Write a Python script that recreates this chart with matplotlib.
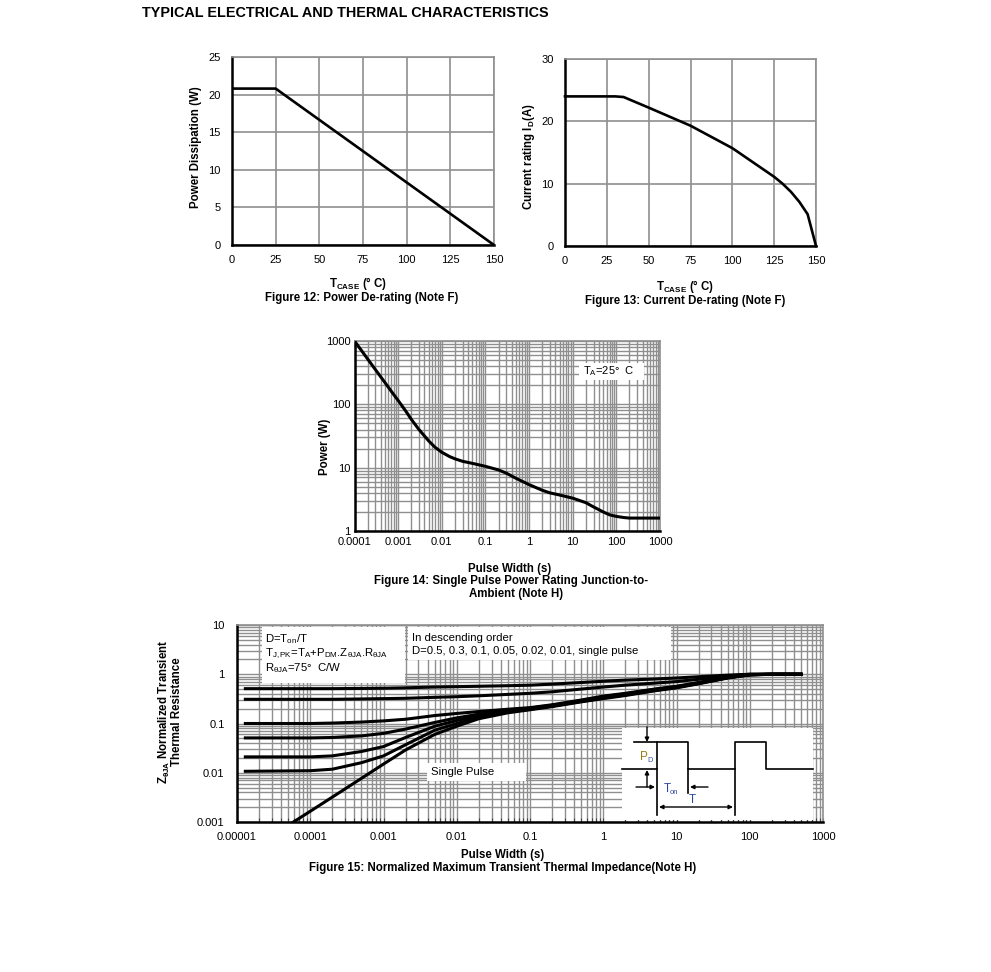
import matplotlib
matplotlib.use('Agg')
import matplotlib.pyplot as plt
import matplotlib.transforms as mtrans
from matplotlib.patches import Rectangle
from matplotlib.lines import Line2D
from matplotlib.ticker import LogLocator, FixedLocator, FixedFormatter, NullFormatter

plt.rcParams['font.family'] = ['Liberation Sans', 'DejaVu Sans']
plt.rcParams['mathtext.fontset'] = 'custom'
plt.rcParams['mathtext.rm'] = 'Liberation Sans'
plt.rcParams['mathtext.it'] = 'Liberation Sans:italic'
plt.rcParams['mathtext.bf'] = 'Liberation Sans:bold'

# Figure 12: power de-rating
tc_power = [0, 25, 150]
power_w = [20.8, 20.8, 0]

# Figure 13: current de-rating
tc_current = [0, 30, 35, 50, 75, 100, 125, 130, 135, 140, 145, 150]
current_a = [24, 24, 23.9, 22.2, 19.3, 15.7, 11.1, 10.0, 8.7, 7.1, 5.1, 0]

# Figure 14: single pulse power rating
pulse_s = [1e-4, 1.5e-4, 2e-4, 3e-4, 5e-4, 7e-4, 1e-3, 1.5e-3, 2e-3, 3e-3, 5e-3, 7e-3,
           1e-2, 1.5e-2, 2e-2, 3e-2, 5e-2, 0.1, 0.2, 0.3, 0.5, 1, 2, 3, 5, 10, 20, 30,
           50, 70, 100, 150, 200, 500, 1000]
pulse_power = [1000, 683, 520, 355, 220, 160, 115, 78, 58, 40, 26.5, 21, 17.5, 15, 13.8,
               12.6, 11.7, 10.5, 9.2, 8.2, 6.8, 5.4, 4.4, 4.0, 3.7, 3.3, 2.8, 2.4, 2.0,
               1.8, 1.7, 1.63, 1.6, 1.6, 1.6]

# Figure 15: normalized transient thermal impedance
zt_time = [1.3e-5, 1e-4, 2e-4, 5e-4, 1e-3, 2e-3, 5e-3, 1e-2, 2e-2, 5e-2, 0.1, 0.2, 0.5,
           1, 2, 5, 10, 20, 50, 100, 200, 500]
z_d50 = [0.51, 0.51, 0.51, 0.515, 0.52, 0.53, 0.55, 0.56, 0.57, 0.585, 0.6, 0.63, 0.68,
         0.72, 0.76, 0.8, 0.84, 0.89, 0.96, 1.0, 1.0, 1.0]
z_d30 = [0.31, 0.31, 0.31, 0.315, 0.32, 0.325, 0.34, 0.35, 0.365, 0.39, 0.41, 0.44, 0.5,
         0.55, 0.6, 0.66, 0.71, 0.79, 0.92, 1.0, 1.0, 1.0]
z_d10 = [0.10, 0.10, 0.102, 0.107, 0.113, 0.122, 0.145, 0.16, 0.175, 0.195, 0.21, 0.24,
         0.3, 0.36, 0.41, 0.5, 0.57, 0.68, 0.87, 0.99, 1.0, 1.0]
z_d05 = [0.051, 0.051, 0.052, 0.056, 0.063, 0.077, 0.105, 0.13, 0.155, 0.185, 0.205, 0.235,
         0.29, 0.35, 0.4, 0.49, 0.56, 0.67, 0.86, 0.98, 1.0, 1.0]
z_d02 = [0.021, 0.021, 0.022, 0.027, 0.034, 0.052, 0.088, 0.115, 0.145, 0.178, 0.2, 0.23,
         0.285, 0.34, 0.39, 0.48, 0.55, 0.66, 0.85, 0.98, 1.0, 1.0]
z_d01 = [0.0107, 0.011, 0.0118, 0.016, 0.022, 0.037, 0.073, 0.1, 0.135, 0.172, 0.195, 0.225,
         0.28, 0.33, 0.38, 0.47, 0.54, 0.65, 0.85, 0.97, 1.0, 1.0]
single_time = [5.9e-5, 1e-4, 2e-4, 5e-4, 1e-3, 2e-3, 5e-3, 1e-2, 2e-2, 5e-2, 0.1, 0.2, 0.5,
               1, 2, 5, 10, 20, 50, 100, 200, 500]
z_single = [0.001, 0.00165, 0.0032, 0.0077, 0.015, 0.029, 0.06, 0.088, 0.125, 0.165, 0.19,
            0.22, 0.275, 0.32, 0.37, 0.46, 0.53, 0.64, 0.84, 0.97, 1.0, 1.0]

decade_labels_14 = ['0.0001', '0.001', '0.01', '0.1', '1', '10', '100', '1000']
decade_labels_15 = ['0.00001', '0.0001', '0.001', '0.01', '0.1', '1', '10', '100', '1000']

W, H = 991, 972
fig = plt.figure(figsize=(9.91, 9.72), dpi=100)
# pixel coordinates (origin top-left) -> figure
PX = mtrans.Affine2D().scale(1 / W, -1 / H).translate(0, 1) + fig.transFigure

GRID = '#8f8f8f'
FS = 8.3


def box(l, t, r, b):
    return [l / W, 1 - b / H, (r - l) / W, (b - t) / H]


def style(ax, xpad, ypad, size=8):
    ax.set_axisbelow(True)
    for s in ['top', 'right']:
        ax.spines[s].set_color(GRID)
        ax.spines[s].set_linewidth(1.2)
    for s in ['left', 'bottom']:
        ax.spines[s].set_color('black')
        ax.spines[s].set_linewidth(1.8)
    ax.tick_params(axis='x', which='both', length=0, labelsize=size, pad=xpad)
    ax.tick_params(axis='y', which='both', length=0, labelsize=size, pad=ypad)


def ftext(x, y, s, **kw):
    kw.setdefault('ha', 'center')
    kw.setdefault('va', 'center')
    fig.text(x / W, 1 - y / H, s, **kw)


def wbox(ax, l, t, r, b):
    ax.add_patch(Rectangle((l, b), r - l, t - b, transform=PX, facecolor='white',
                           edgecolor='none', zorder=1.5, clip_on=False))


ftext(142, 13, 'TYPICAL ELECTRICAL AND THERMAL CHARACTERISTICS', ha='left',
      fontsize=10.35, weight='bold')

# ---- Figure 12
ax12 = fig.add_axes(box(232, 57, 494, 245))
ax12.plot(tc_power, power_w, color='black', lw=1.9, solid_capstyle='butt', zorder=3, clip_on=False)
ax12.set_xlim(0, 150)
ax12.set_ylim(0, 25)
ax12.set_xticks(range(0, 151, 25))
ax12.set_yticks(range(0, 26, 5))
ax12.grid(True, color=GRID, lw=1.2)
style(ax12, 7, 8)
ftext(196, 147, 'Power Dissipation (W)', rotation=90, fontsize=FS, weight='bold')
ftext(358, 283, r'T$_{\mathregular{CASE}}$ (° C)', fontsize=FS, weight='bold')
ftext(362, 298, 'Figure 12: Power De-rating (Note F)', fontsize=FS, weight='bold')

# ---- Figure 13
ax13 = fig.add_axes(box(565, 59, 816, 246))
ax13.plot(tc_current, current_a, color='black', lw=1.9, zorder=3, clip_on=False)
ax13.set_xlim(0, 150)
ax13.set_ylim(0, 30)
ax13.set_xticks(range(0, 151, 25))
ax13.set_yticks(range(0, 31, 10))
ax13.grid(True, color=GRID, lw=1.2)
style(ax13, 7, 8)
ftext(529, 157, r'Current rating I$_{\mathregular{D}}$(A)', rotation=90, fontsize=FS, weight='bold')
ftext(685, 286, r'T$_{\mathregular{CASE}}$ (° C)', fontsize=FS, weight='bold')
ftext(685, 301, 'Figure 13: Current De-rating (Note F)', fontsize=FS, weight='bold')

# ---- Figure 14
ax14 = fig.add_axes(box(354.5, 341, 660, 531))
ax14.plot(pulse_s, pulse_power, color='black', lw=2.2, zorder=3)
ax14.set_xscale('log')
ax14.set_yscale('log')
ax14.set_xlim(1e-4, 1e3)
ax14.set_ylim(1, 1000)
ax14.xaxis.set_major_locator(FixedLocator([10.0 ** k for k in range(-4, 4)]))
ax14.xaxis.set_major_formatter(FixedFormatter(decade_labels_14))
ax14.yaxis.set_major_locator(FixedLocator([1, 10, 100, 1000]))
ax14.yaxis.set_major_formatter(FixedFormatter(['1', '10', '100', '1000']))
for a in (ax14.xaxis, ax14.yaxis):
    a.set_minor_locator(LogLocator(base=10, subs=range(2, 10), numticks=20))
    a.set_minor_formatter(NullFormatter())
ax14.grid(True, which='both', color=GRID, lw=1.0)
style(ax14, 4, 3)
wbox(ax14, 579, 363, 644, 380)
ftext(583, 371, r'T$_{\mathregular{A}}$=25°  C', ha='left', fontsize=8)
ftext(325, 447, 'Power (W)', rotation=90, fontsize=FS, weight='bold')
ftext(510, 569, 'Pulse Width (s)', fontsize=FS, weight='bold')
ftext(511, 581, 'Figure 14: Single Pulse Power Rating Junction-to-', fontsize=FS, weight='bold')
ftext(516, 594, 'Ambient (Note H)', fontsize=FS, weight='bold')

# ---- Figure 15
ax15 = fig.add_axes(box(237, 625, 823, 822))
for z in (z_d50, z_d30, z_d10, z_d05, z_d02, z_d01):
    ax15.plot(zt_time, z, color='black', lw=2.2, zorder=3)
ax15.plot(single_time, z_single, color='black', lw=2.2, zorder=3)
ax15.set_xscale('log')
ax15.set_yscale('log')
ax15.set_xlim(1e-5, 1e3)
ax15.set_ylim(1e-3, 10)
ax15.xaxis.set_major_locator(FixedLocator([10.0 ** k for k in range(-5, 4)]))
ax15.xaxis.set_major_formatter(FixedFormatter(decade_labels_15))
ax15.yaxis.set_major_locator(FixedLocator([0.001, 0.01, 0.1, 1, 10]))
ax15.yaxis.set_major_formatter(FixedFormatter(['0.001', '0.01', '0.1', '1', '10']))
for a in (ax15.xaxis, ax15.yaxis):
    a.set_minor_locator(LogLocator(base=10, subs=range(2, 10), numticks=20))
    a.set_minor_formatter(NullFormatter())
ax15.grid(True, which='both', color=GRID, lw=1.0)
style(ax15, 7, 9)
ax15.tick_params(axis='x', which='both', direction='in', length=3, width=0.8, color='#444444')

wbox(ax15, 262, 627, 405, 683)
wbox(ax15, 408, 627, 671, 660)
wbox(ax15, 427, 763, 526, 781)
wbox(ax15, 622, 728, 813, 820)
ftext(265, 639, r'D=T$_{\mathregular{on}}$/T', ha='left', fontsize=8.2)
ftext(265, 654, r'T$_{\mathregular{J,PK}}$=T$_{\mathregular{A}}$+P$_{\mathregular{DM}}$.Z$_{\mathregular{θJA}}$.R$_{\mathregular{θJA}}$',
      ha='left', fontsize=8.2)
ftext(265, 668, r'R$_{\mathregular{θJA}}$=75°  C/W', ha='left', fontsize=8.2)
ftext(412, 638, 'In descending order', ha='left', fontsize=8.2)
ftext(412, 651, 'D=0.5, 0.3, 0.1, 0.05, 0.02, 0.01, single pulse', ha='left', fontsize=8.2)
ftext(431, 772, 'Single Pulse', ha='left', fontsize=8.2)

# pulse diagram inset
wave_x = [622, 657, 657, 688, 688, 735, 735, 766, 766, 813]
wave_y = [769, 769, 742, 742, 769, 769, 742, 742, 769, 769]
for xs, ys in [(wave_x, wave_y), ([634, 657], [742, 742]), ([657, 657], [769, 815]),
               ([688, 688], [769, 793]), ([735, 735], [769, 815])]:
    fig.add_artist(Line2D(xs, ys, transform=PX, color='black', lw=1.2))
arrow = dict(arrowstyle='-|>', color='black', lw=1.0, mutation_scale=6, shrinkA=0, shrinkB=0)
ax15.annotate('', xy=(647, 742), xytext=(647, 727), xycoords=PX, textcoords=PX, arrowprops=arrow)
ax15.annotate('', xy=(647, 770), xytext=(647, 787), xycoords=PX, textcoords=PX, arrowprops=arrow)
ax15.annotate('', xy=(655, 787), xytext=(636, 787), xycoords=PX, textcoords=PX, arrowprops=arrow)
ax15.annotate('', xy=(690, 787), xytext=(708, 787), xycoords=PX, textcoords=PX, arrowprops=arrow)
ax15.annotate('', xy=(733, 807), xytext=(659, 807), xycoords=PX, textcoords=PX,
              arrowprops=dict(arrowstyle='<|-|>', color='black', lw=1.0, mutation_scale=6,
                              shrinkA=0, shrinkB=0))
ftext(640, 757, 'P', ha='left', fontsize=8.5, color='#9a7b12')
ftext(647, 760, 'D', ha='left', fontsize=5.5, color='#3a55a0')
ftext(664, 789, 'T', ha='left', fontsize=8.5, color='#2a4aa0')
ftext(670, 792, 'on', ha='left', fontsize=5.5, color='#2a4aa0')
ftext(692, 800, 'T', ha='center', fontsize=8.5, color='#2a4aa0')

ftext(170, 712, r'Z$_{\mathregular{θJA}}$ Normalized Transient' + '\nThermal Resistance',
      rotation=90, fontsize=FS, weight='bold', multialignment='center', linespacing=0.95)
ftext(503, 855, 'Pulse Width (s)', fontsize=FS, weight='bold')
ftext(503, 868, 'Figure 15: Normalized Maximum Transient Thermal Impedance(Note H)',
      fontsize=FS, weight='bold')

fig.savefig('out.png', dpi=100)
